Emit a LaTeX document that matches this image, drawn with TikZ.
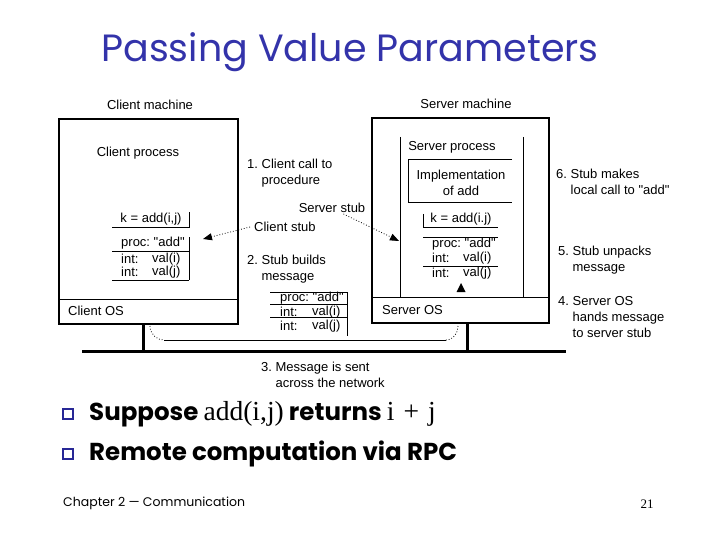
\documentclass[tikz,border=0pt]{standalone}
\usepackage{fontspec}
\setmainfont{Liberation Sans}[Ligatures=TeXOff]
\newfontfamily\comicf{Poppins}
\newfontfamily\serff{Liberation Serif}
\usetikzlibrary{arrows.meta}
\definecolor{titleblue}{RGB}{51,51,170}
\definecolor{bulletblue}{RGB}{40,40,150}
\newcommand\qq{\char34\relax}
\frenchspacing
\tikzset{
  lbl/.style={inner sep=0pt, font=\fontsize{13}{15}\selectfont},
  lw/.style={lbl, anchor=west},
  frame/.style={line width=1.6pt},
  thin/.style={line width=0.8pt},
  dotarrow/.style={dotted, line width=0.8pt, -{Triangle[length=9pt,width=7pt]}},
  netline/.style={line width=3pt},
  bulletbox/.style={draw=bulletblue, line width=1.8pt, fill=white, minimum size=10pt, inner sep=0pt},
  bigtxt/.style={anchor=west, inner sep=0pt, font=\comicf\bfseries\fontsize{24.5}{28}\selectfont},
}
\newcommand\serfpart[1]{{\serff\mdseries\fontsize{27.5}{30}\selectfont #1}}
\begin{document}
\begin{tikzpicture}[x=1pt,y=-1pt]
\useasboundingbox (0,0) rectangle (720,540);
% title
\node[text=titleblue, font=\comicf\fontsize{38}{44}\selectfont, inner sep=0pt] (title) at (350,52) {Passing Value Parameters};

% client machine
\node[lbl] (cm) at (150,105) {Client machine};
\draw[frame] (59,119) rectangle (238,324);
\draw[thin] (59,299) -- (238,299);
\node[lw] (cos) at (68,311) {Client OS};
\node[lbl] (cp) at (138,153) {Client process};
% client stub
\node[lbl] (ck) at (151,219) {k = add(i,j)};
\draw[thin] (112,227) -- (189,227) -- (189,212);
\draw[thin] (189,237) -- (189,280) (112,251) -- (189,251) (112,280) -- (189,280);
\node[lw] (cproc) at (121,243) {proc: \qq add\qq};
\node[lw] (ci1) at (121,259) {int:};
\node[lw] (cv1) at (152,259) {val(i)};
\node[lw] (ci2) at (121,272) {int:};
\node[lw] (cv2) at (152,272) {val(j)};

% server machine
\node[lbl] (sm) at (466,104) {Server machine};
\draw[frame] (372,118) rectangle (549,323);
\draw[thin] (372,297) -- (549,297);
\node[lw] (sos) at (382,310) {Server OS};
\draw[thin] (400,137) -- (400,297) (523,137) -- (523,297);
\node[lbl] (sp) at (452,147) {Server process};
\draw[thin] (512,159) -- (408,159) -- (408,202) -- (512,202);
\node[lbl, align=center] (impl) at (461,183) {Implementation\\[1pt]of add};
\node[lbl] (sk) at (461,219) {k = add(i.j)};
\draw[thin] (423,214) -- (423,227) -- (498,227);
\draw[thin] (423,237) -- (498,237) (423,266) -- (498,266);
\node[lw] (sproc) at (432,244) {proc: \qq add\qq};
\node[lw] (si1) at (432,258) {int:};
\node[lw] (sv1) at (463,258) {val(i)};
\node[lw] (si2) at (432,273) {int:};
\node[lw] (sv2) at (463,273) {val(j)};
\fill (461,283) -- (456.5,292) -- (465.5,292) -- cycle;

% message in transit
\draw[thin] (270,292) -- (347,292) (270,304) -- (347,304) (270,317) -- (347,317) (347,292) -- (347,336);
\node[lw] (mproc) at (280,298) {proc: \qq add\qq};
\node[lw] (mi1) at (280,312) {int:};
\node[lw] (mv1) at (312,312) {val(i)};
\node[lw] (mi2) at (280,326) {int:};
\node[lw] (mv2) at (312,326) {val(j)};

% network
\draw[netline] (82,351) -- (566,351);
\draw[netline] (143,324) -- (143,351);
\draw[netline] (467,323) -- (467,351);
\coordinate (pa) at (150,326);
\coordinate (pb) at (164,340);
\coordinate (pc) at (446,340);
\coordinate (pd) at (458,326);
\draw[dotted, line width=0.8pt] (pa) to[out=-90,in=180] (pb);
\draw[line width=0.8pt] (pb) -- (pc);
\draw[dotted, line width=0.8pt] (pc) to[out=0,in=-90] (pd);

% step labels
\node[lw, align=left] (s1) at (247,173) {1. Client call to\\[1pt]\phantom{1. }procedure};
\node[lbl] (ss) at (332,208) {Server stub};
\node[lw] (cs) at (254,227) {Client stub};
\node[lw, align=left] (s2) at (247,269) {2. Stub builds\\[1pt]\phantom{2. }message};
\node[lw, align=left] (s3) at (261,375) {3. Message is sent\\[1pt]\phantom{3. }across the network};
\node[lw, align=left] (s6) at (556,182) {6. Stub makes\\[1pt]\phantom{6. }local call to \qq add\qq};
\node[lw, align=left] (s5) at (558,260) {5. Stub unpacks\\[1pt]\phantom{5. }message};
\node[lw, align=left] (s4) at (558,317) {4. Server OS\\[1pt]\phantom{4. }hands message\\[1pt]\phantom{4. }to server stub};

\coordinate (ct) at (203,239);
\coordinate (st) at (399,241);
\draw[dotarrow] (cs.west) ++(-4,0) coordinate (csa) (csa) -- (ct);
\draw[dotarrow] (ss.south east) ++(-22,1) coordinate (ssa) (ssa) -- (st);

% bullets
\node[bulletbox] (b1) at (68,414) {};
\node[bulletbox] (b2) at (68,454) {};
\node[bigtxt] (t1) at (89,414) {Suppose \serfpart{add(i,j)} returns \serfpart{i\hspace{9pt}+\hspace{9pt}j}};
\node[bigtxt] (t2) at (89,454) {Remote computation via RPC};

% footer
\node[anchor=west, inner sep=0pt, font=\comicf\fontsize{12.5}{15}\selectfont] (foot) at (63,503) {Chapter 2 — Communication};
\node[inner sep=0pt, font=\serff\fontsize{13}{15}\selectfont] (pg) at (647,504) {21};
\end{tikzpicture}
\end{document}
